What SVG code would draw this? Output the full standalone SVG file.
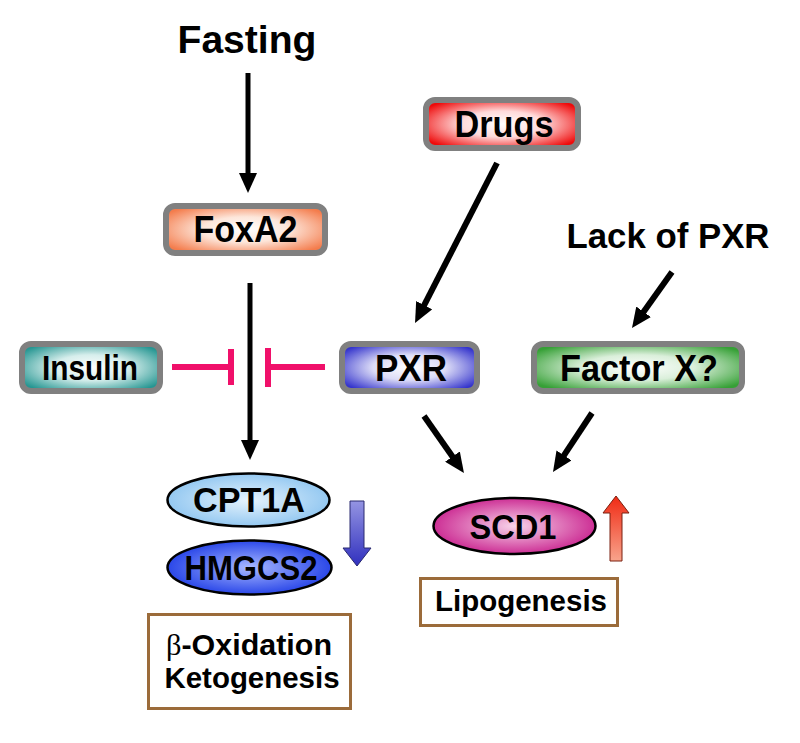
<svg xmlns="http://www.w3.org/2000/svg" width="800" height="743" viewBox="0 0 800 743">
<style>
.lbl{font-family:"Liberation Sans",Arial,sans-serif;font-weight:bold;fill:#000;text-anchor:middle;}
.box{stroke:#808080;stroke-width:6;}
.ell{stroke:#000;stroke-width:2.5;}
.arr{stroke:#000;fill:none;stroke-linecap:butt;marker-end:url(#ah);}
.inh{stroke:#F0106A;stroke-width:6;fill:none;}
.res{fill:#fff;stroke:#9B6B3A;stroke-width:3;}
</style>
<defs>
<marker id="ah" markerUnits="userSpaceOnUse" markerWidth="20" markerHeight="18" refX="10" refY="9" orient="auto" viewBox="0 0 20 18">
<path d="M0,0 L20,9 L0,18 z" fill="#000"/>
</marker>
<radialGradient id="gOrange" cx="0.5" cy="0.5" r="0.6"><stop offset="0" stop-color="#fff"/><stop offset="0.45" stop-color="#FDE6DA"/><stop offset="1" stop-color="#F47C4C"/></radialGradient>
<radialGradient id="gRed" cx="0.5" cy="0.5" r="0.6"><stop offset="0" stop-color="#fff"/><stop offset="0.45" stop-color="#FFDADA"/><stop offset="1" stop-color="#EE0A0A"/></radialGradient>
<radialGradient id="gTeal" cx="0.5" cy="0.5" r="0.6"><stop offset="0" stop-color="#fff"/><stop offset="0.45" stop-color="#D6EEEC"/><stop offset="1" stop-color="#269692"/></radialGradient>
<radialGradient id="gBlue" cx="0.5" cy="0.5" r="0.6"><stop offset="0" stop-color="#fff"/><stop offset="0.45" stop-color="#DCDCF7"/><stop offset="1" stop-color="#3434CC"/></radialGradient>
<radialGradient id="gGreen" cx="0.5" cy="0.5" r="0.6"><stop offset="0" stop-color="#fff"/><stop offset="0.45" stop-color="#DAEFDA"/><stop offset="1" stop-color="#36A036"/></radialGradient>
<radialGradient id="eLight" cx="0.5" cy="0.5" r="0.55"><stop offset="0" stop-color="#E6F3FD"/><stop offset="1" stop-color="#8CC4F0"/></radialGradient>
<radialGradient id="eDark" cx="0.5" cy="0.5" r="0.55"><stop offset="0" stop-color="#A8B8FF"/><stop offset="1" stop-color="#1E3CE6"/></radialGradient>
<radialGradient id="eMag" cx="0.5" cy="0.5" r="0.55"><stop offset="0" stop-color="#F8D4EA"/><stop offset="1" stop-color="#C81E8C"/></radialGradient>
<linearGradient id="gDown" x1="0" y1="0" x2="0" y2="1"><stop offset="0" stop-color="#9494E2"/><stop offset="1" stop-color="#3030BE"/></linearGradient>
<linearGradient id="gUp" x1="0" y1="0" x2="0" y2="1"><stop offset="0" stop-color="#F02A14"/><stop offset="1" stop-color="#F8A48C"/></linearGradient>
</defs>

<g id="connectors">
<line class="arr" stroke-width="5" x1="248" y1="73" x2="248" y2="183"/>
<line class="arr" stroke-width="5" x1="250" y1="283" x2="250" y2="450"/>
<line class="arr" stroke-width="6" x1="497" y1="163" x2="419.6" y2="314.1"/>
<line class="arr" stroke-width="6" x1="672" y1="272" x2="637.8" y2="319.9"/>
<line class="arr" stroke-width="6" x1="424" y1="416" x2="458.2" y2="464.8"/>
<line class="arr" stroke-width="6" x1="592" y1="413" x2="558.5" y2="463.7"/>
<g id="inhibit-insulin"><line class="inh" x1="172" y1="367" x2="231" y2="367"/><line class="inh" x1="231" y1="349" x2="231" y2="385"/></g>
<g id="inhibit-pxr"><line class="inh" x1="325" y1="367" x2="268" y2="367"/><line class="inh" x1="268" y1="348" x2="268" y2="387"/></g>
</g>

<g id="fasting"><text class="lbl" x="247" y="53" font-size="38" textLength="139" lengthAdjust="spacingAndGlyphs">Fasting</text></g>

<g id="foxa2"><rect class="box" x="166" y="206" width="159" height="47" rx="9" fill="url(#gOrange)"/><text class="lbl" x="245.5" y="242" font-size="36" textLength="104" lengthAdjust="spacingAndGlyphs">FoxA2</text></g>

<g id="drugs"><rect class="box" x="426" y="100" width="152" height="48" rx="9" fill="url(#gRed)"/><text class="lbl" x="504" y="137" font-size="36" textLength="99" lengthAdjust="spacingAndGlyphs">Drugs</text></g>

<g id="lack-of-pxr"><text class="lbl" x="668" y="248" font-size="35" textLength="203" lengthAdjust="spacingAndGlyphs">Lack of PXR</text></g>

<g id="insulin"><rect class="box" x="22" y="344" width="138" height="47" rx="9" fill="url(#gTeal)"/><text class="lbl" x="90" y="380" font-size="35" textLength="96" lengthAdjust="spacingAndGlyphs">Insulin</text></g>

<g id="pxr"><rect class="box" x="342" y="344" width="135" height="47" rx="9" fill="url(#gBlue)"/><text class="lbl" x="411" y="381" font-size="37" textLength="72" lengthAdjust="spacingAndGlyphs">PXR</text></g>

<g id="factor-x"><rect class="box" x="534" y="344" width="208" height="47" rx="9" fill="url(#gGreen)"/><text class="lbl" x="639" y="381" font-size="36" textLength="158" lengthAdjust="spacingAndGlyphs">Factor X?</text></g>

<g id="cpt1a"><ellipse class="ell" cx="248.5" cy="500" rx="81" ry="26.5" fill="url(#eLight)"/><text class="lbl" x="249" y="512" font-size="35" textLength="112" lengthAdjust="spacingAndGlyphs">CPT1A</text></g>

<g id="hmgcs2"><ellipse class="ell" cx="249.5" cy="567.5" rx="82" ry="27" fill="url(#eDark)"/><text class="lbl" x="251" y="580" font-size="35" textLength="133" lengthAdjust="spacingAndGlyphs">HMGCS2</text></g>

<g id="down-arrow"><polygon points="350,501 364,501 364,548 371,548 357,566 343,548 350,548" fill="url(#gDown)" stroke="#2A2A70" stroke-width="1"/></g>

<g id="scd1"><ellipse class="ell" cx="514.5" cy="526" rx="81" ry="28" fill="url(#eMag)"/><text class="lbl" x="513" y="539" font-size="35" textLength="87" lengthAdjust="spacingAndGlyphs">SCD1</text></g>

<g id="up-arrow"><polygon points="616,496 629,513 622,513 622,561 610,561 610,513 603,513" fill="url(#gUp)" stroke="#7A2010" stroke-width="1"/></g>

<g id="lipogenesis"><rect class="res" x="420.5" y="578.5" width="197" height="47"/><text class="lbl" x="521" y="611" font-size="30" textLength="172" lengthAdjust="spacingAndGlyphs">Lipogenesis</text></g>

<g id="beta-oxidation"><rect class="res" x="148.5" y="614.5" width="202" height="94"/><text class="lbl" x="249" y="655" font-size="30" textLength="166" lengthAdjust="spacingAndGlyphs"><tspan font-family="'Liberation Serif',serif" font-weight="normal">β</tspan>-Oxidation</text><text class="lbl" x="252" y="688" font-size="30" textLength="175" lengthAdjust="spacingAndGlyphs">Ketogenesis</text></g>
</svg>
